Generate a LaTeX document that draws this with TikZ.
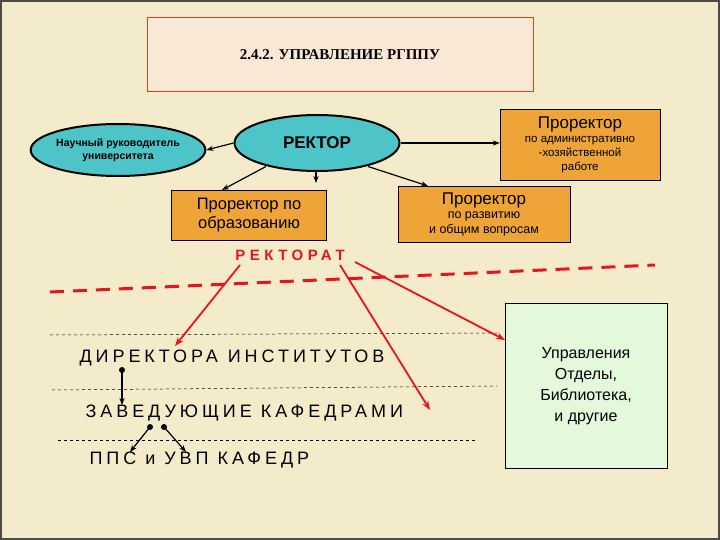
\documentclass[tikz,border=0pt]{standalone}
\usepackage{fontspec}
\setmainfont{Liberation Sans}
\newfontfamily\serif{Liberation Serif}
\usetikzlibrary{shapes.geometric,arrows.meta}
\definecolor{bg}{HTML}{F4EBCB}
\definecolor{orng}{HTML}{EEA437}
\definecolor{cyn}{HTML}{4CC4C8}
\definecolor{grn}{HTML}{E4F8DC}
\definecolor{rd}{HTML}{E8141B}
\tikzset{
 ell/.style={ellipse,draw=black,line width=2pt,fill=cyn,inner sep=0pt},
 obox/.style={draw=black,fill=orng,align=center,inner sep=0pt},
 conn/.style={-{Stealth[length=7pt]},line width=1.2pt},
 rconn/.style={-{Stealth[length=9pt]},line width=1.8pt,rd},
 thin dash/.style={dashed,line width=0.5pt},
 sp/.style={anchor=west,font=\addfontfeature{LetterSpace=22}\fontsize{18}{20}\selectfont},
}
\begin{document}
\begin{tikzpicture}[x=1pt,y=-1pt]
\fill[black!70] (0,0) rectangle (720,540);
\fill[bg] (2,2) rectangle (718,538);
\useasboundingbox (0,0) rectangle (720,540);
\node[draw=red!50!brown,line width=1pt,fill=red!8!bg!60!white,minimum width=386pt,minimum height=74pt] (title) at (340,55) {\serif\bfseries\fontsize{15}{17}\selectfont 2.4.2. УПРАВЛЕНИЕ РГППУ};
\node[ell,minimum width=170pt,minimum height=52pt,align=center,font=\bfseries\fontsize{10.5}{12.5}\selectfont] (sci) at (118,150) {Научный руководитель\\университета};
\node[ell,minimum width=165pt,minimum height=56pt,font=\bfseries\fontsize{17}{19}\selectfont] (rec) at (317,143) {РЕКТОР};
\node[obox,minimum width=160pt,minimum height=71pt,font=\fontsize{11.5}{14}\selectfont] (adm) at (580,145) {{\fontsize{17}{19}\selectfont Проректор}\\по административно\\-хозяйственной\\работе};
\node[obox,minimum width=155pt,minimum height=50pt,font=\fontsize{16.5}{19}\selectfont] (edu) at (249,215) {Проректор по\\образованию};
\node[obox,minimum width=172pt,minimum height=56pt,font=\fontsize{12.5}{14.5}\selectfont] (dev) at (484,214) {{\fontsize{17}{19}\selectfont Проректор}\\по развитию\\и общим вопросам};
\node[text=rd,font=\bfseries\addfontfeature{LetterSpace=30}\fontsize{15}{17}\selectfont] (rt) at (290,255) {РЕКТОРАТ};
\draw[conn] (rec.west) -- (sci.east);
\draw[conn] (rec.east) -- (adm.west|-rec.east);
\draw[conn] (rec.south west)++(8,3) -- (222,190);
\draw[conn] (316,171) -- (316,183);
\draw[conn] (rec.south east)++(-8,3) -- (428,186);
\draw[rd,line width=3pt,dash pattern=on 14pt off 9pt] (50,292) -- (655,265);
\draw[thin dash] (50,335) -- (500,333);
\draw[thin dash] (52,390) -- (497,386);
\draw[thin dash] (58,440) -- (475,440);
\node[sp] (dir) at (76,358) {ДИРЕКТОРА\hspace{10pt}ИНСТИТУТОВ};
\node[sp] (zav) at (82,413) {ЗАВЕДУЮЩИЕ КАФЕДРАМИ};
\node[sp] (pps) at (86,460) {ППС и УВП КАФЕДР};
\node[draw=black,fill=grn,minimum width=162pt,minimum height=165pt,align=center,font=\fontsize{16}{21}\selectfont] (grn) at (586,386) {Управления\\Отделы,\\Библиотека,\\и другие};
\draw[rconn] (240,265) -- (175,346);
\draw[rconn] (340,265) -- (430,410);
\draw[rconn] (355,262) -- (505,340);
\coordinate (d1) at (122,370); \coordinate (d2) at (122,405);
\fill (d1) circle (3pt);
\draw[conn] (d1) -- (d2);
\coordinate (z1) at (150,427); \coordinate (z2) at (130,452);
\coordinate (z3) at (164,427); \coordinate (z4) at (186,452);
\fill (z1) circle (3pt); \fill (z3) circle (3pt);
\draw[conn] (z1) -- (z2);
\draw[conn] (z3) -- (z4);
\end{tikzpicture}
\end{document}
